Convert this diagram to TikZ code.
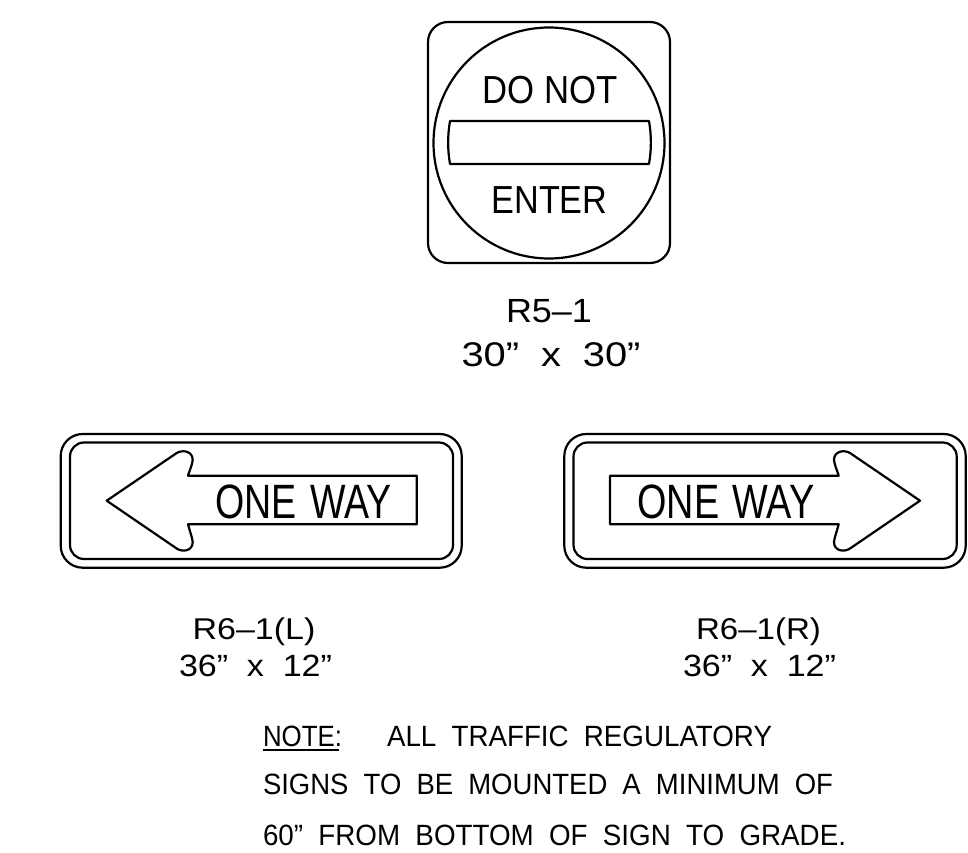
\documentclass[tikz,border=0pt]{standalone}
\usepackage{fontspec}
\usepackage{graphicx}
\setmainfont{Liberation Sans}
\tikzset{
  signline/.style={draw=black,line width=2.2pt,line join=round},
  cadtext/.style={anchor=base west,inner sep=0pt,outer sep=0pt,text=black},
}
% name, x, baseline, width, cap height, text
\newcommand{\cadlabel}[6]{%
  \pgfmathsetmacro{\fsz}{#5/0.716}%
  \pgfmathsetmacro{\fsk}{\fsz*1.15}%
  \node[cadtext] (#1) at (#2,#3) {\fontsize{\fsz pt}{\fsk pt}\selectfont\resizebox{#4pt}{\height}{#6}};%
}
\newcommand{\wgap}{\hspace{0.55em}}
\newcommand{\narrowgap}{\hspace{0.35em}}
\newcommand{\arrowshape}{%
  \draw[signline] (0,500.7) -- (70,453)
    .. controls (76,449.5) and (86,451) .. (86,460)
    .. controls (85.5,465) and (83,470) .. (81.3,475.7)
    -- (310,475.7) -- (310,524.3) -- (81.3,524.3)
    .. controls (83,531) and (85.5,537) .. (86,542)
    .. controls (86,551) and (76,552.5) .. (70,548.5)
    -- cycle;%
}
\begin{document}
\begin{tikzpicture}[x=1pt,y=-1pt]
\useasboundingbox (0,0) rectangle (968,853);
% R5-1
\draw[signline,rounded corners=20pt] (428,22) rectangle (670,263);
\draw[signline] (549,143) circle (115.5);
\draw[signline] (450,121) -- (649,121)
  .. controls (651.5,136) and (651.5,149) .. (649,164)
  -- (450,164)
  .. controls (447.5,149) and (447.5,136) .. (450,121) -- cycle;
\cadlabel{donot}{482.5}{103.5}{135}{28}{DO NOT}
\cadlabel{enter}{491.5}{213}{116}{28}{ENTER}
\cadlabel{rfive}{506}{322}{86}{24}{R5–1}
\cadlabel{rfivesize}{461.5}{366}{179}{24.5}{30”\wgap x\wgap 30”}
% R6-1(L)
\draw[signline,rounded corners=22pt] (60.7,434) rectangle (461.7,567.7);
\draw[signline,rounded corners=14pt] (70,442.5) rectangle (453,559);
\begin{scope}[shift={(106.7,0)}]\arrowshape\end{scope}
\cadlabel{onewayl}{215.5}{518.5}{176}{34.5}{ONE\narrowgap WAY}
\cadlabel{rsixl}{192.5}{639}{123}{21.5}{R6–1(L)}
\cadlabel{rsixlsize}{179}{676}{153}{22}{36”\wgap x\wgap 12”}
% R6-1(R)
\draw[signline,rounded corners=22pt] (564.3,434) rectangle (965.7,567.7);
\draw[signline,rounded corners=14pt] (573.5,442.5) rectangle (956.7,559);
\begin{scope}[shift={(920,0)},xscale=-1]\arrowshape\end{scope}
\cadlabel{onewayr}{637.5}{518.5}{177}{34.5}{ONE\narrowgap WAY}
\cadlabel{rsixr}{696}{639}{125}{21.5}{R6–1(R)}
\cadlabel{rsixrsize}{683}{676}{153}{22}{36”\wgap x\wgap 12”}
% note
\cadlabel{notehead}{263}{746.5}{79}{21}{NOTE:}
\draw[line width=2.4pt] (notehead.base west)++(0,3.2) -- ++(76,0);
\cadlabel{noteone}{387}{746.5}{385}{21}{ALL\wgap TRAFFIC\wgap REGULATORY}
\cadlabel{notetwo}{263}{794.5}{570}{21}{SIGNS\wgap TO\wgap BE\wgap MOUNTED\wgap A\wgap MINIMUM\wgap OF}
\cadlabel{notethree}{263}{845.5}{583}{21}{60”\wgap FROM\wgap BOTTOM\wgap OF\wgap SIGN\wgap TO\wgap GRADE.}
\end{tikzpicture}
\end{document}
